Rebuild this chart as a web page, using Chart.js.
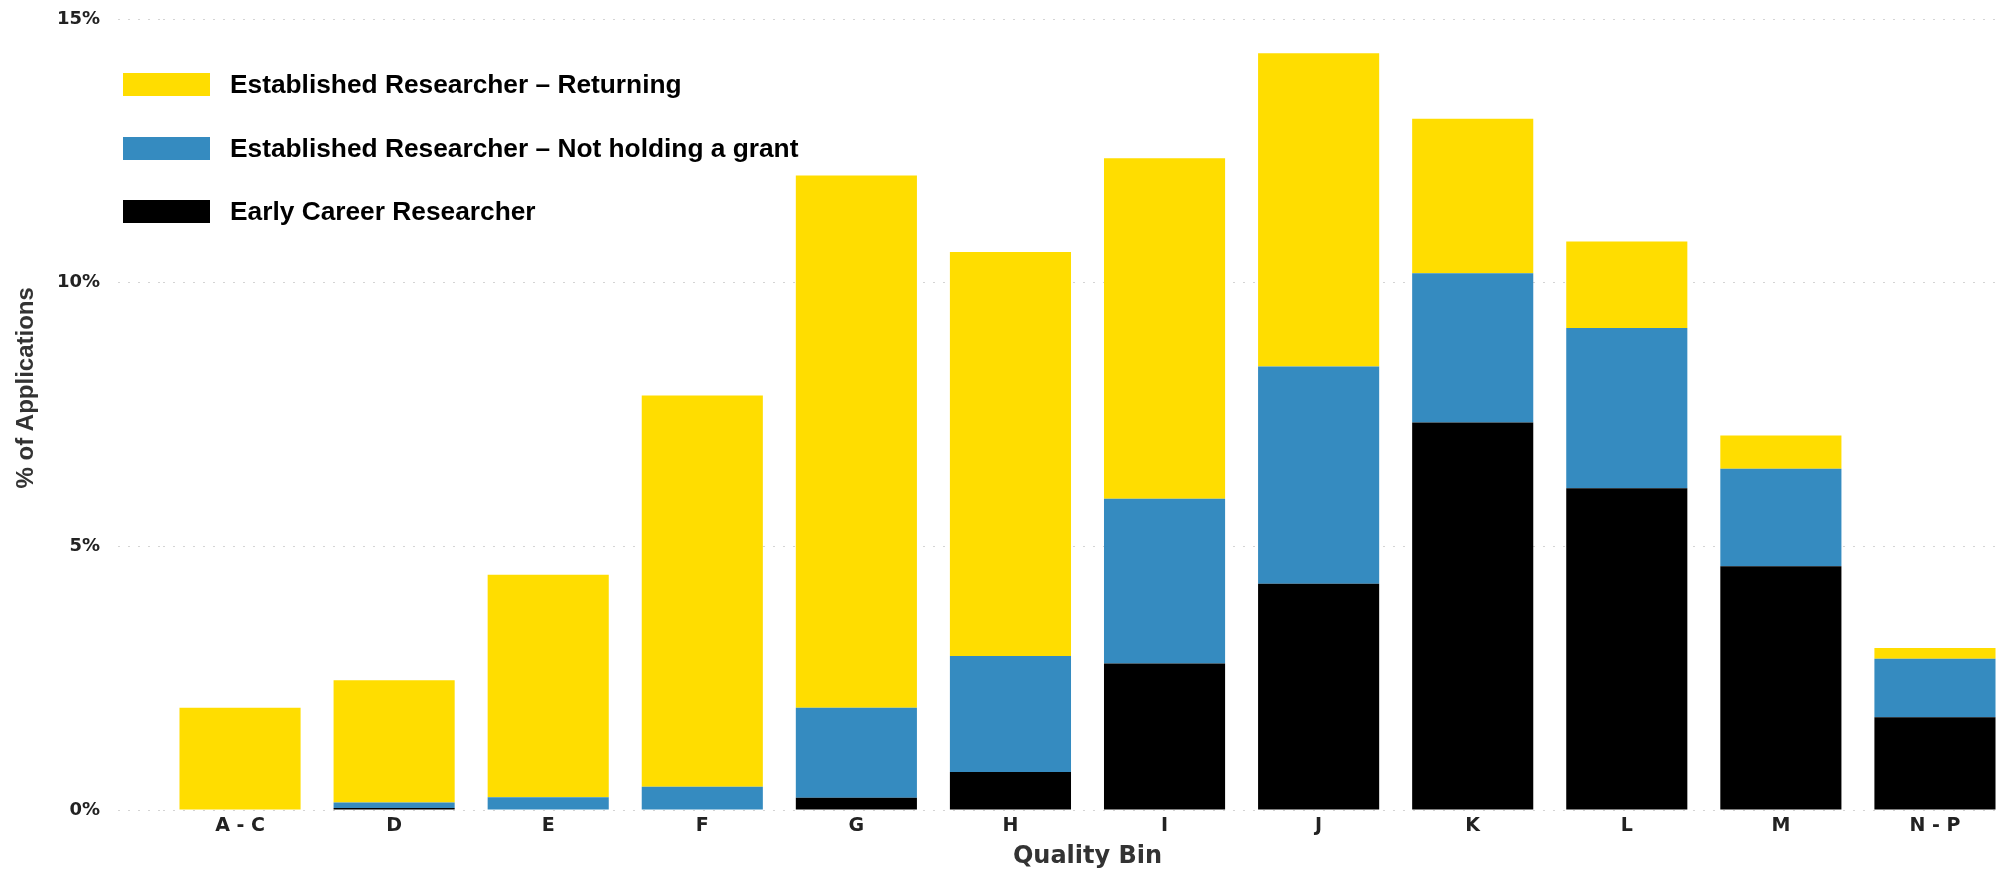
<!DOCTYPE html>
<html>
<head>
<meta charset="utf-8">
<title>% of Applications by Quality Bin</title>
<script src="https://cdn.jsdelivr.net/npm/chart.js@4.4.1/dist/chart.umd.min.js"></script>
<style>
  html, body { margin: 0; padding: 0; background: #fff; overflow: hidden; }
  #wrap { position: relative; width: 2012px; height: 871px; }
  #leyenda { position: absolute; left: 123px; top: 53px; margin: 0; padding: 0; list-style: none; }
  #leyenda li { display: flex; align-items: center; height: 63.5px;
    font: bold 26.3px "Liberation Sans", Arial, sans-serif; color: #000; }
  #leyenda span.caja { display: inline-block; width: 87px; height: 23px; margin-right: 20px; }
</style>
</head>
<body>
<div id="wrap">
  <canvas id="barChartBins"></canvas>
  <ul id="leyenda"></ul>
</div>
<script>
// categories (quality bins)
var bins = ["A - C", "D", "E", "F", "G", "H", "I", "J", "K", "L", "M", "N - P"];

// % of applications, one segment per group (stacked bottom to top)
var earlyCareer = [0, 0.04, 0, 0, 0.23, 0.72, 2.78, 4.29, 7.35, 6.10, 4.62, 1.76];
var notHolding  = [0, 0.10, 0.24, 0.44, 1.71, 2.20, 3.12, 4.12, 2.83, 3.04, 1.85, 1.11];
var returning   = [1.94, 2.32, 4.22, 7.42, 10.09, 7.66, 6.46, 5.94, 2.93, 1.64, 0.63, 0.20];

// y axis ticks
var yMin = 0;
var yMax = 15;
var yStep = 5;

function GraficoBarrasBins() {
  var ctx = document.getElementById("barChartBins").getContext("2d");

  var gridColor = "#d4d4d4";

  var config = {
    type: "bar",
    data: {
      labels: bins,
      datasets: [
        { label: "Early Career Researcher", data: earlyCareer, backgroundColor: "#000000" },
        { label: "Established Researcher \u2013 Not holding a grant", data: notHolding, backgroundColor: "#358BC0" },
        { label: "Established Researcher \u2013 Returning", data: returning, backgroundColor: "#FFDD00" }
      ]
    },
    options: {
      responsive: true,
      maintainAspectRatio: false,
      animation: false,
      layout: { padding: { top: 19, right: 0, bottom: 0, left: 0 } },
      datasets: {
        bar: { categoryPercentage: 1, barPercentage: 0.786, borderWidth: 0 }
      },
      scales: {
        x: {
          stacked: true,
          grid: { display: false, drawTicks: false },
          border: { display: false },
          ticks: {
            color: "#222",
            padding: 5,
            font: { family: "DejaVu Sans", weight: "bold", size: 19 }
          },
          title: {
            display: true,
            text: "Quality Bin",
            color: "#333",
            padding: { top: 4, bottom: 0 },
            font: { family: "DejaVu Sans", weight: "bold", size: 24 }
          },
          afterFit: function (scale) { scale.height = 61; }
        },
        y: {
          stacked: true,
          min: yMin,
          max: yMax,
          grid: {
            color: gridColor,
            lineWidth: 1,
            drawTicks: true,
            tickLength: 45,
            tickColor: gridColor,
            tickBorderDash: [2, 8]
          },
          border: { display: false, dash: [2, 8] },
          ticks: {
            stepSize: yStep,
            color: "#222",
            padding: 18,
            font: { family: "DejaVu Sans", weight: "bold", size: 18 },
            callback: function (v) { return v + "%"; }
          },
          title: {
            display: true,
            // leading spaces push the rotated title a little up, as in the original
            text: "        % of Applications",
            color: "#333",
            padding: { top: 12, bottom: 0 },
            font: { family: "Liberation Sans", weight: "bold", size: 24 }
          },
          afterFit: function (scale) {
            scale.width = 163;
            scale.paddingTop = 0;
            scale.paddingBottom = 0;
          }
        }
      },
      plugins: {
        legend: { display: false },
        tooltip: {
          enabled: true,
          callbacks: {
            label: function (context) {
              return context.dataset.label + ": " + context.parsed.y + "%";
            }
          }
        }
      }
    }
  };

  var grafico = new Chart(ctx, config);

  // legend as html, top series first
  var ul = document.getElementById("leyenda");
  grafico.data.datasets.slice().reverse().forEach(function (ds) {
    var li = document.createElement("li");
    var caja = document.createElement("span");
    caja.className = "caja";
    caja.style.background = ds.backgroundColor;
    li.appendChild(caja);
    li.appendChild(document.createTextNode(ds.label));
    ul.appendChild(li);
  });
}

GraficoBarrasBins();
</script>
</body>
</html>
